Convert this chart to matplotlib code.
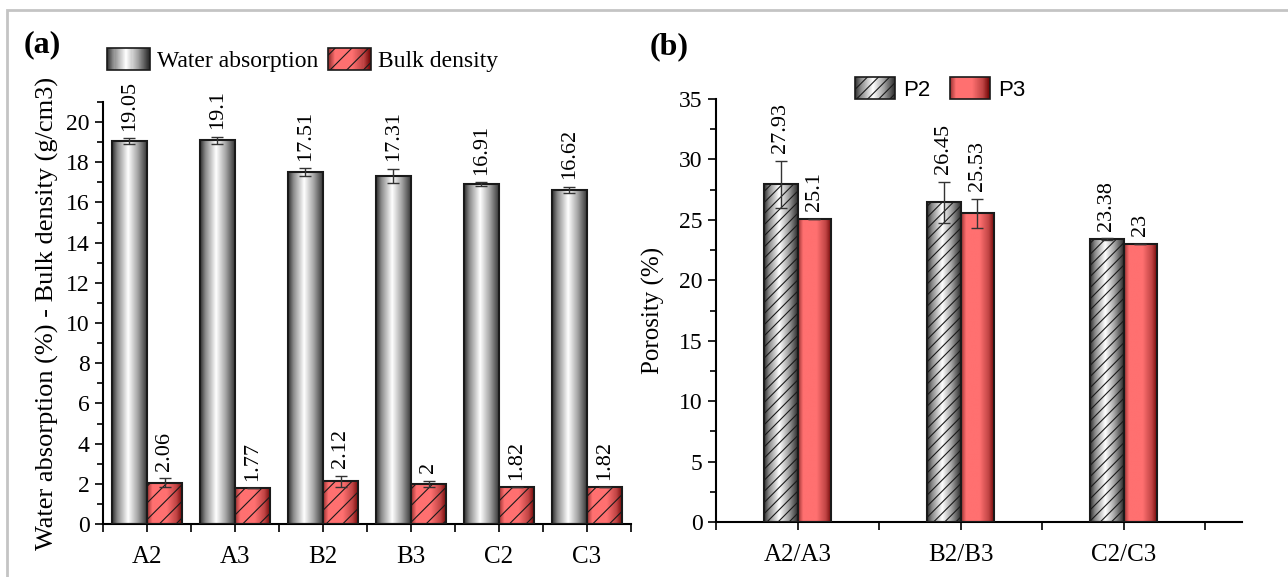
import numpy as np
import matplotlib
matplotlib.use("Agg")
import matplotlib.pyplot as plt
from matplotlib.colors import LinearSegmentedColormap
from matplotlib.patches import Rectangle
from matplotlib.legend_handler import HandlerBase
from matplotlib.ticker import MultipleLocator, FixedLocator

# panel (a) data
samples = ["A2", "A3", "B2", "B3", "C2", "C3"]
water_abs = [19.05, 19.1, 17.51, 17.31, 16.91, 16.62]
water_abs_err = [0.15, 0.18, 0.19, 0.35, 0.1, 0.17]
bulk_density = [2.06, 1.77, 2.12, 2.0, 1.82, 1.82]
bulk_density_err = [0.22, 0.0, 0.27, 0.15, 0.0, 0.0]

# panel (b) data
pairs = ["A2/A3", "B2/B3", "C2/C3"]
porosity_p2 = [27.93, 26.45, 23.38]
porosity_p2_err = [1.97, 1.71, 0.08]
porosity_p3 = [25.1, 25.53, 23.0]
porosity_p3_err = [0.0, 1.19, 0.0]

SERIF = ["Liberation Serif", "DejaVu Serif"]
plt.rcParams["font.family"] = SERIF
plt.rcParams["hatch.linewidth"] = 0.8

gray_cmap = LinearSegmentedColormap.from_list(
    "cyl_gray", [(0, "#2c2c2c"), (0.15, "#8a8a8a"), (0.45, "#ffffff"), (0.72, "#a4a4a4"), (1, "#2c2c2c")])
red_cmap = LinearSegmentedColormap.from_list(
    "cyl_red", [(0, "#983030"), (0.15, "#ff7070"), (0.55, "#ff7070"), (0.82, "#c04444"), (1, "#6a0000")])

EDGE = "#1a1a1a"


class GradientHandler(HandlerBase):
    """Legend key drawn as vertical colour strips with an outline"""

    def __init__(self, cmap, hatch=None, n=40):
        super().__init__()
        self.cmap = cmap
        self.hatch = hatch
        self.n = n

    def create_artists(self, legend, orig_handle, xdescent, ydescent, width, height, fontsize, trans):
        x0, y0 = -xdescent, -ydescent
        arts = []
        for i in range(self.n):
            arts.append(Rectangle((x0 + i * width / self.n, y0), width / self.n * 1.1, height,
                                  facecolor=self.cmap((i + 0.5) / self.n), edgecolor="none", transform=trans))
        arts.append(Rectangle((x0, y0), width, height, facecolor="none", edgecolor=EDGE,
                              lw=1.2, hatch=self.hatch, transform=trans))
        return arts


def grad_bar(ax, x, h, w, cmap, hatch=None):
    """Bar with a horizontal cylinder-like gradient"""
    b = ax.bar(x, h, w, facecolor="none", edgecolor=EDGE, lw=1.5, hatch=hatch, zorder=3)[0]
    grad = np.linspace(0, 1, 256).reshape(1, -1)
    im = ax.imshow(grad, cmap=cmap, extent=(x - w / 2, x + w / 2, 0, h), aspect="auto",
                   interpolation="bilinear", zorder=2)
    im.set_clip_path(b)
    return b


def style_axes(ax, n, ymax, ymajor, yminor, labels):
    ax.set_xlim(0.5, n)
    ax.set_ylim(0, ymax)
    ax.spines["top"].set_visible(False)
    ax.spines["right"].set_visible(False)
    for s in ("left", "bottom"):
        ax.spines[s].set_linewidth(1.5)
    ax.xaxis.set_major_locator(FixedLocator(np.arange(1, len(labels) + 1)))
    ax.xaxis.set_minor_locator(FixedLocator(np.arange(0.5, len(labels) + 1, 1.0)))
    ax.set_xticklabels(labels)
    ax.yaxis.set_major_locator(MultipleLocator(ymajor))
    ax.yaxis.set_minor_locator(MultipleLocator(yminor))
    ax.tick_params(axis="both", which="both", direction="out", width=1.2, labelsize=17)
    ax.tick_params(axis="x", which="major", labelsize=18)
    ax.tick_params(axis="both", which="major", length=6)
    ax.tick_params(axis="y", which="minor", length=4)
    ax.tick_params(axis="x", which="minor", length=6)
    ax.tick_params(axis="x", which="major", pad=10)


def label_bars(ax, xs, vals, errs):
    for x, v, e in zip(xs, vals, errs):
        ax.annotate("%g" % v, (x, v + e), xytext=(0, 5.5), textcoords="offset points",
                    rotation=90, ha="center", va="bottom", fontsize=16)


fig = plt.figure(figsize=(12.88, 5.77), dpi=100)

# outer frame
fig.add_artist(Rectangle((7 / 1288, -0.1), 1.2, 1 - 10 / 577 + 0.1, transform=fig.transFigure,
                         facecolor="none", edgecolor="#c4c4c4", lw=2))

# ---- panel (a)
ax1 = fig.add_axes([103 / 1288, 1 - 524 / 577, (631 - 103) / 1288, (524 - 102) / 577])
w = 0.4
xa = np.arange(1, len(samples) + 1)
for i in range(len(samples)):
    grad_bar(ax1, xa[i] - w / 2, water_abs[i], w, gray_cmap)
    grad_bar(ax1, xa[i] + w / 2, bulk_density[i], w, red_cmap, hatch="//")
ax1.errorbar(xa - w / 2, water_abs, yerr=water_abs_err, fmt="none", ecolor="#333333",
             elinewidth=1, capsize=4, capthick=1, zorder=4)
ax1.errorbar(xa + w / 2, bulk_density, yerr=bulk_density_err, fmt="none", ecolor="#333333",
             elinewidth=1, capsize=4, capthick=1, zorder=4)
label_bars(ax1, xa - w / 2, water_abs, water_abs_err)
label_bars(ax1, xa + w / 2, bulk_density, bulk_density_err)
style_axes(ax1, len(samples) + 0.5, 21, 2, 1, samples)
ax1.set_ylabel("Water absorption (%) - Bulk density (g/cm3)", fontsize=19, labelpad=5)

h1 = Rectangle((0, 0), 1, 1)
h2 = Rectangle((0, 0), 1, 1)
fig.legend([h1, h2], ["Water absorption", "Bulk density"], ncol=2, frameon=False,
           loc="center left", bbox_to_anchor=(107 / 1288, 1 - 60 / 577), bbox_transform=fig.transFigure,
           borderpad=0, borderaxespad=0, fontsize=17, handlelength=1.8, handleheight=1.05,
           handletextpad=0.3, columnspacing=0.45,
           handler_map={h1: GradientHandler(gray_cmap), h2: GradientHandler(red_cmap, "//")})
fig.text(24 / 1288, 1 - 45 / 577, "(a)", fontsize=23, fontweight="bold", va="center", ha="left")

# ---- panel (b)
ax2 = fig.add_axes([716 / 1288, 1 - 522 / 577, (1242 - 716) / 1288, (522 - 99) / 577])
w2 = 0.205
xb = np.arange(1, len(pairs) + 1)
for i in range(len(pairs)):
    grad_bar(ax2, xb[i] - w2 / 2, porosity_p2[i], w2, gray_cmap, hatch="///")
    grad_bar(ax2, xb[i] + w2 / 2, porosity_p3[i], w2, red_cmap)
ax2.errorbar(xb - w2 / 2, porosity_p2, yerr=porosity_p2_err, fmt="none", ecolor="#333333",
             elinewidth=1, capsize=4, capthick=1, zorder=4)
ax2.errorbar(xb + w2 / 2, porosity_p3, yerr=porosity_p3_err, fmt="none", ecolor="#333333",
             elinewidth=1, capsize=4, capthick=1, zorder=4)
label_bars(ax2, xb - w2 / 2, porosity_p2, porosity_p2_err)
label_bars(ax2, xb + w2 / 2, porosity_p3, porosity_p3_err)
style_axes(ax2, 0.5 + 526 / 163, 35, 5, 2.5, pairs)
ax2.set_ylabel("Porosity (%)", fontsize=18, labelpad=10)

h3 = Rectangle((0, 0), 1, 1)
h4 = Rectangle((0, 0), 1, 1)
fig.legend([h3, h4], ["P2", "P3"], ncol=2, frameon=False,
           loc="center left", bbox_to_anchor=(855 / 1288, 1 - 89 / 577), bbox_transform=fig.transFigure,
           borderpad=0, borderaxespad=0, handlelength=1.8, handleheight=1.15,
           handletextpad=0.35, columnspacing=0.9,
           prop={"family": ["Liberation Sans Narrow", "Liberation Sans", "DejaVu Sans"], "size": 16},
           handler_map={h3: GradientHandler(gray_cmap, "///"), h4: GradientHandler(red_cmap)})
fig.text(650 / 1288, 1 - 47 / 577, "(b)", fontsize=23, fontweight="bold", va="center", ha="left")

fig.savefig("out.png", dpi=100)
